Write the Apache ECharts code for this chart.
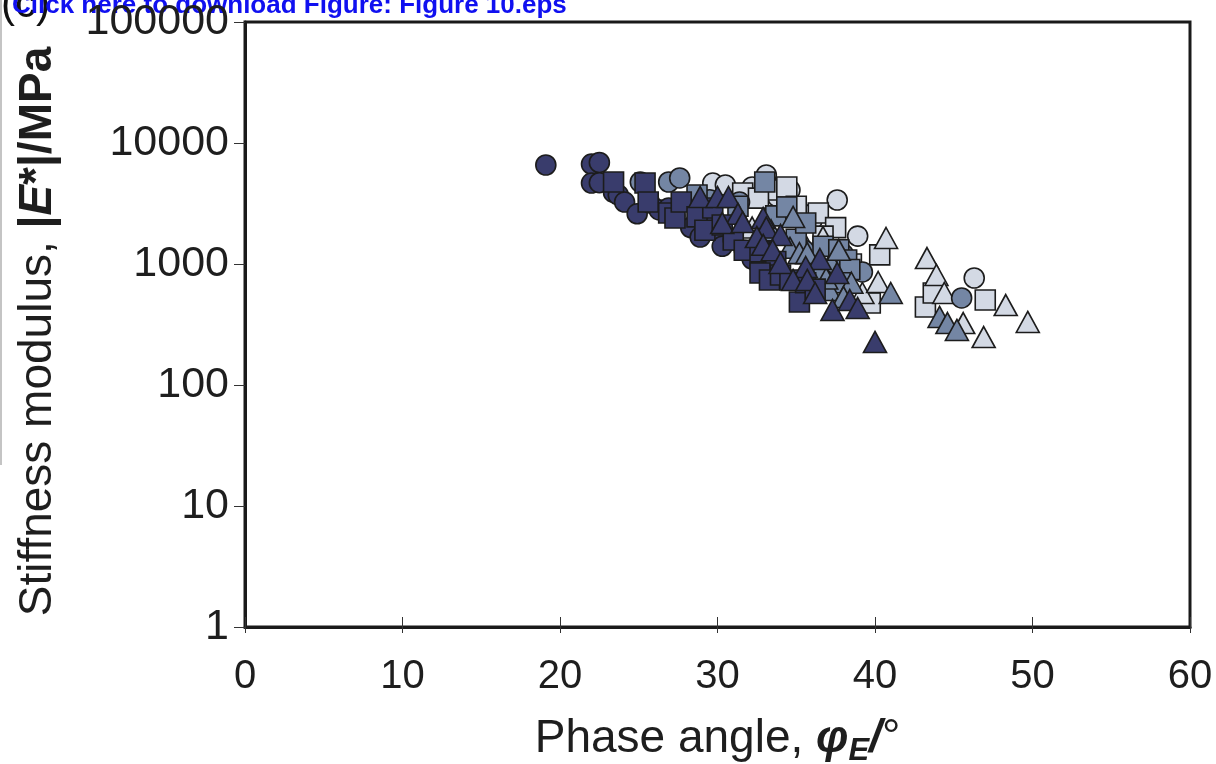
<!DOCTYPE html>
<html><head><meta charset="utf-8">
<script src="https://cdn.jsdelivr.net/npm/echarts@6/dist/echarts.min.js"></script>
<style>html,body{margin:0;padding:0;background:#fff}#c{width:1216px;height:764px}</style>
</head><body><div id="c"></div>
<script>
// Phase angle (deg), stiffness modulus (MPa)
const xTicks = [0, 10, 20, 30, 40, 50, 60];
const yTicks = [1, 10, 100, 1000, 10000, 100000];

const lightCircle = [[29.7,4670],[33.1,5440],[32.2,4330],[34.6,4090],[30.5,4500],[37.6,3380],[36.0,2300],[38.9,1700],[46.3,766],[33.8,3600],[35.4,2600]];
const lightSquare = [[31.6,3860],[33.3,4090],[34.4,4330],[32.6,3500],[35.0,3000],[36.4,2640],[37.5,2000],[36.7,1700],[38.5,1000],[40.3,1190],[39.7,476],[43.2,441],[43.7,576],[47.0,504],[37.8,750]];
const lightTriangle = [[32.2,2000],[35.5,1500],[36.7,1670],[37.0,1300],[40.7,1640],[39.2,576],[40.2,710],[43.3,1120],[43.9,811],[44.4,576],[45.6,325],[46.9,249],[48.3,458],[49.7,332],[38.6,900]];
const medCircle = [[25.1,4760],[26.9,4760],[27.6,5140],[29.5,3400],[31.4,3250],[33.5,2500],[35.5,1300],[37.5,1000],[38.0,1200],[39.2,860],[45.5,524]];
const medSquare = [[28.7,3720],[31.3,3000],[33.0,4760],[33.7,2500],[34.4,2960],[35.0,1600],[35.6,2180],[36.7,1400],[37.7,1310],[38.2,1080],[38.4,900],[37.8,700],[36.0,900]];
const medTriangle = [[34.8,2450],[33.4,1900],[34.6,1360],[35.2,1230],[35.7,1230],[36.5,900],[37.7,1310],[37.1,610],[38.5,700],[38.0,533],[41.0,576],[44.1,365],[44.6,325],[45.2,285],[36.9,760]];
const darkCircle = [[19.1,6580],[22.0,6700],[22.5,6900],[22.0,4670],[22.5,4700],[23.4,3900],[23.7,3720],[24.1,3250],[24.9,2600],[25.7,3200],[26.3,2800],[26.9,2900],[27.3,2500],[28.7,2300],[28.3,2000],[28.9,1670],[29.8,2100],[30.0,1900],[30.3,1400],[31.0,1580],[31.7,1300],[32.2,1100],[32.7,950],[33.3,900],[34.0,800]];
const darkSquare = [[23.4,4760],[25.4,4670],[25.6,3250],[26.9,2640],[27.3,2400],[27.7,3250],[28.7,2450],[29.2,1900],[29.7,2900],[30.3,2100],[31.0,1580],[31.7,1300],[32.7,1260],[33.7,1050],[32.7,843],[33.3,738],[34.0,811],[34.6,738],[35.2,485],[35.6,700],[36.2,620]];
const darkTriangle = [[28.9,3580],[30.0,3580],[30.7,3580],[31.3,2600],[30.3,2180],[31.6,2220],[32.9,2400],[33.1,2000],[32.5,1670],[34.0,1740],[32.9,1440],[33.5,1300],[34.0,1020],[36.5,1100],[35.6,945],[34.8,738],[35.7,738],[36.2,576],[37.6,843],[37.3,417],[38.4,504],[38.9,433],[40.0,227]];

const DARK = '#393c6c', MED = '#7486a4', LIGHT = '#d3d9e4', EDGE = '#1c1c1c';
function sc(name, data, symbol, color, size) {
  return { name, type: 'scatter', data, symbol, symbolSize: size,
    itemStyle: { color, borderColor: EDGE, borderWidth: 1.6, opacity: 1 },
    emphasis: { disabled: true }, animation: false };
}
const FONT = '"Liberation Sans", Arial, Helvetica, sans-serif';
const chart = echarts.init(document.getElementById('c'), null, { renderer: 'canvas' });
chart.setOption({
  backgroundColor: '#fff',
  animation: false,
  textStyle: { fontFamily: FONT },
  grid: { left: 245, top: 22, width: 945, height: 605, show: true, borderColor: '#1a1a1a', borderWidth: 3, containLabel: false, outerBoundsMode: 'none' },
  xAxis: [{
    type: 'value', min: 0, max: 60, interval: 10, position: 'bottom',
    axisLine: { show: true, lineStyle: { color: '#1a1a1a', width: 3 } },
    axisTick: { show: true, inside: true, length: 10, lineStyle: { color: '#333', width: 1 } },
    axisLabel: { fontSize: 40, color: '#1e1e1e', margin: 30, fontFamily: FONT, formatter: v => xTicks.includes(v) ? String(v) : '' },
    splitLine: { show: false },
    name: '{n|Phase angle, }{b|φ}{s|E}{b|/}{n|°}', nameLocation: 'middle', nameGap: 84,
    nameTextStyle: { rich: {
      n: { fontSize: 46, color: '#1e1e1e', fontFamily: FONT, verticalAlign: 'middle', lineHeight: 56 },
      b: { fontSize: 46, color: '#1e1e1e', fontWeight: 'bold', fontStyle: 'italic', fontFamily: FONT, verticalAlign: 'middle', lineHeight: 56 },
      s: { fontSize: 31, color: '#1e1e1e', fontWeight: 'bold', fontStyle: 'italic', fontFamily: FONT, verticalAlign: 'bottom', lineHeight: 30 }
    } }
  }, {
    type: 'value', min: 0, max: 60, interval: 10, position: 'bottom',
    axisLine: { show: false }, axisLabel: { show: false }, splitLine: { show: false },
    axisTick: { show: true, inside: false, length: 6, lineStyle: { color: '#333', width: 1 } }
  }],
  yAxis: {
    type: 'log', logBase: 10, min: 1, max: 100000,
    axisLine: { show: true, lineStyle: { color: '#1a1a1a', width: 3 } },
    axisTick: { show: true, inside: false, length: 11, lineStyle: { color: '#333', width: 1 } },
    axisLabel: { fontSize: 43, color: '#1e1e1e', margin: 16, fontFamily: FONT, formatter: v => yTicks.includes(v) ? String(v) : '' },
    splitLine: { show: false },
    minorTick: { show: false },
    name: '{n|Stiffness modulus, }{b||}{bi|E}{b|*|/MPa}', nameLocation: 'middle', nameRotate: 90, nameGap: 184,
    nameTextStyle: { padding: [0, 14, 0, 0], rich: {
      n: { fontSize: 46, color: '#1e1e1e', fontFamily: FONT },
      b: { fontSize: 46, color: '#1e1e1e', fontWeight: 'bold', fontFamily: FONT },
      bi: { fontSize: 46, color: '#1e1e1e', fontWeight: 'bold', fontStyle: 'italic', fontFamily: FONT }
    } }
  },
  series: [
    sc('lc', lightCircle, 'circle', LIGHT, 20),
    sc('ls', lightSquare, 'rect', LIGHT, 20),
    sc('lt', lightTriangle, 'triangle', LIGHT, [23, 21]),
    sc('mc', medCircle, 'circle', MED, 20),
    sc('ms', medSquare, 'rect', MED, 20),
    sc('mt', medTriangle, 'triangle', MED, [23, 21]),
    sc('dc', darkCircle, 'circle', DARK, 20),
    sc('ds', darkSquare, 'rect', DARK, 20),
    sc('dt', darkTriangle, 'triangle', DARK, [23, 21])
  ],
  graphic: [
    { type: 'rect', left: 0, top: 0, shape: { width: 2, height: 465 }, style: { fill: '#c4c4c4' }, silent: true },
    { type: 'text', left: 1, top: -16, style: { text: '(c)', fontSize: 42, fill: '#111', fontFamily: FONT }, silent: true },
    { type: 'text', left: 12, top: -7, style: { text: 'Click here to download Figure: Figure 10.eps', fontSize: 26, fontWeight: 'bold', fill: '#1010f0', fontFamily: FONT }, silent: true }
  ]
});
</script></body></html>
